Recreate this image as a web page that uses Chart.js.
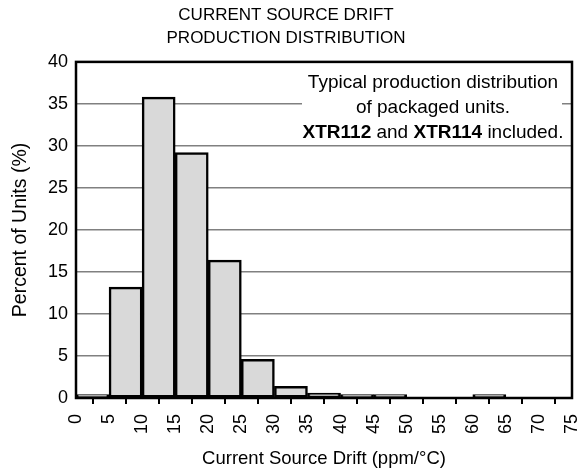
<!DOCTYPE html>
<html>
<head>
<meta charset="utf-8">
<script src="https://cdn.jsdelivr.net/npm/chart.js@4.4.0/dist/chart.umd.min.js"></script>
<style>
  html, body { margin: 0; padding: 0; background: #fff; }
  #wrap { width: 579px; height: 474px; }
</style>
</head>
<body>
<div id="wrap"><canvas id="chart"></canvas></div>
<script>
// histogram: bin start (ppm/°C), bin width, percent of units per bin
var binStart = [0, 5, 10, 15, 20, 25, 30, 35, 40, 45, 50, 55, 60, 65, 70];
var binWidth = 5;
var percentUnits = [0.4, 13.2, 35.8, 29.2, 16.4, 4.6, 1.4, 0.6,
                    0.4, 0.4, 0, 0, 0.4, 0, 0];
var driftTicks = [0, 5, 10, 15, 20, 25, 30, 35, 40, 45, 50, 55, 60, 65, 70, 75];
var percentTicks = [0, 5, 10, 15, 20, 25, 30, 35, 40];

var FONT = "'Liberation Sans', Arial, sans-serif";

// white note box in the top right corner, over the grid, and the frame
var noteBox = {
  id: 'noteBox',
  beforeDatasetsDraw: function(chart) {
    var ctx = chart.ctx, a = chart.chartArea;
    var cx = 433;
    ctx.save();
    ctx.fillStyle = '#fff';
    ctx.fillRect(302, a.top + 2, 562 - 302, 80);
    ctx.fillStyle = '#000';
    ctx.textBaseline = 'middle';
    ctx.textAlign = 'center';
    ctx.font = '19px ' + FONT;
    ctx.fillText('Typical production distribution', cx, 83);
    ctx.fillText('of packaged units.', cx, 108);
    var parts = [['bold ', 'XTR112'], ['', ' and '], ['bold ', 'XTR114'], ['', ' included.']];
    var total = 0;
    parts.forEach(function(p) { ctx.font = p[0] + '19px ' + FONT; total += ctx.measureText(p[1]).width; });
    var x = cx - total / 2;
    ctx.textAlign = 'left';
    parts.forEach(function(p) {
      ctx.font = p[0] + '19px ' + FONT;
      ctx.fillText(p[1], x, 133);
      x += ctx.measureText(p[1]).width;
    });
    ctx.restore();
  },
  afterDatasetsDraw: function(chart) {
    var ctx = chart.ctx, a = chart.chartArea;
    ctx.save();
    ctx.strokeStyle = '#000';
    ctx.lineWidth = 2.5;
    ctx.strokeRect(a.left, a.top, a.right - a.left, a.bottom - a.top);
    ctx.restore();
  }
};

var ctx = document.getElementById('chart').getContext('2d');
var chart = new Chart(ctx, {
  type: 'bar',
  data: {
    datasets: [{
      data: binStart.map(function(s, i) { return { x: s + binWidth / 2, y: percentUnits[i] }; }),
      backgroundColor: '#d9d9d9',
      borderColor: '#000',
      borderWidth: 2.5,
      borderSkipped: false,
      barPercentage: 1,
      categoryPercentage: 1
    }]
  },
  options: {
    responsive: true,
    maintainAspectRatio: false,
    animation: false,
    layout: { padding: { left: 0, right: 7, top: 0, bottom: 0 } },
    plugins: {
      legend: { display: false },
      tooltip: { enabled: false },
      title: {
        display: true,
        text: ['CURRENT SOURCE DRIFT', 'PRODUCTION DISTRIBUTION'],
        color: '#000',
        font: { family: FONT, size: 17, weight: 'normal', lineHeight: 1.35 },
        padding: { top: 4, bottom: 12 }
      }
    },
    scales: {
      x: {
        type: 'linear',
        offset: false,
        min: 0, max: 75,
        afterBuildTicks: function(s) { s.ticks = driftTicks.map(function(v) { return { value: v }; }); },
        afterFit: function(s) { s.height = 76; s.paddingLeft = 0; s.paddingRight = 0; },
        grid: { drawOnChartArea: false, drawTicks: true, tickLength: 6, color: '#000', lineWidth: 2 },
        border: { display: false },
        ticks: {
          color: '#000', minRotation: 90, maxRotation: 90, padding: 10,
          font: { family: FONT, size: 18 }
        },
        title: {
          display: true, text: 'Current Source Drift (ppm/°C)', color: '#000',
          font: { family: FONT, size: 18.5 }, padding: { top: 0, bottom: 4 }
        }
      },
      y: {
        min: 0, max: 40,
        afterBuildTicks: function(s) { s.ticks = percentTicks.map(function(v) { return { value: v }; }); },
        afterFit: function(s) { s.width = 76; },
        grid: { color: '#808080', lineWidth: 1.5, drawTicks: false },
        border: { display: false },
        ticks: { color: '#000', padding: 8, font: { family: FONT, size: 18 } },
        title: {
          display: true, text: 'Percent of Units (%)', color: '#000',
          font: { family: FONT, size: 19.5 }, padding: { top: 9, bottom: 0 }
        }
      }
    }
  },
  plugins: [noteBox]
});
</script>
</body>
</html>
